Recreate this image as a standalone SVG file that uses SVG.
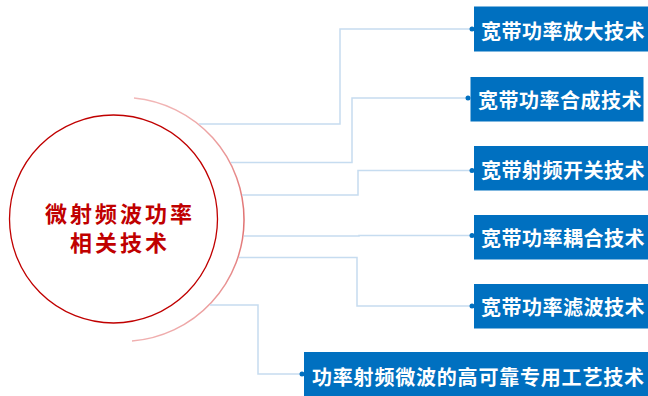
<svg xmlns="http://www.w3.org/2000/svg" width="648" height="396" viewBox="0 0 648 396">
<defs>
<style>
.box{fill:#0070c0;}
.lbl{fill:#ffffff;font-family:"Noto Sans CJK SC","Noto Sans",sans-serif;font-weight:bold;font-size:20px;letter-spacing:0.5px;dominant-baseline:central;}
.con{fill:none;stroke:#c6dcf0;stroke-width:1.5;}
.dot{fill:#0070c0;}
.ctr{fill:#c00000;font-family:"Noto Sans CJK SC","Noto Sans",sans-serif;font-weight:bold;font-size:22px;text-anchor:middle;dominant-baseline:central;letter-spacing:3px;}
</style>
<linearGradient id="arcg" x1="0" y1="0" x2="0" y2="1">
<stop offset="0" stop-color="#f2b8b8"/>
<stop offset="0.5" stop-color="#e07070"/>
<stop offset="1" stop-color="#f0b0b0"/>
</linearGradient>
</defs>
<rect width="648" height="396" fill="#ffffff"/>
<g id="center">
<circle cx="113.5" cy="219" r="104" fill="none" stroke="#c00000" stroke-width="1.3"/>
<path d="M134,98 A122,122 0 0 1 132,341" fill="none" stroke="url(#arcg)" stroke-width="1.5"/>
<text class="ctr" x="120" y="212">微射频波功率</text>
<text class="ctr" x="120" y="241">相关技术</text>
</g>
<g id="connectors">
<polyline class="con" points="199,124 340,124 340,29 472,29"/>
<polyline class="con" points="231,162.5 352,162.5 352,98 468,98"/>
<polyline class="con" points="242,195 358,195 358,170.5 472,170.5"/>
<polyline class="con" points="244,236 359,236 359,235.5 472,235.5"/>
<polyline class="con" points="239,257.5 357,257.5 357,306 472,306"/>
<polyline class="con" points="210,305 258,305 258,374 302,374"/>
<circle class="dot" cx="472" cy="29" r="2.5"/>
<circle class="dot" cx="468" cy="98" r="2.5"/>
<circle class="dot" cx="472" cy="170.5" r="2.5"/>
<circle class="dot" cx="472" cy="235.5" r="2.5"/>
<circle class="dot" cx="472" cy="306" r="2.5"/>
<circle class="dot" cx="302" cy="374" r="2.5"/>
</g>
<g id="n1"><rect class="box" x="474" y="6.5" width="174" height="45"/><text class="lbl" x="481" y="30">宽带功率放大技术</text></g>
<g id="n2"><rect class="box" x="470.5" y="77" width="173" height="44.5"/><text class="lbl" x="478" y="99">宽带功率合成技术</text></g>
<g id="n3"><rect class="box" x="474" y="146" width="174" height="44.5"/><text class="lbl" x="481" y="169">宽带射频开关技术</text></g>
<g id="n4"><rect class="box" x="474" y="215" width="174" height="44.5"/><text class="lbl" x="481" y="237">宽带功率耦合技术</text></g>
<g id="n5"><rect class="box" x="474" y="284" width="174" height="44.5"/><text class="lbl" x="481" y="306">宽带功率滤波技术</text></g>
<g id="n6"><rect class="box" x="304" y="352" width="344" height="44"/><text class="lbl" x="312" y="376" style="letter-spacing:0.8px">功率射频微波的高可靠专用工艺技术</text></g>
</svg>
